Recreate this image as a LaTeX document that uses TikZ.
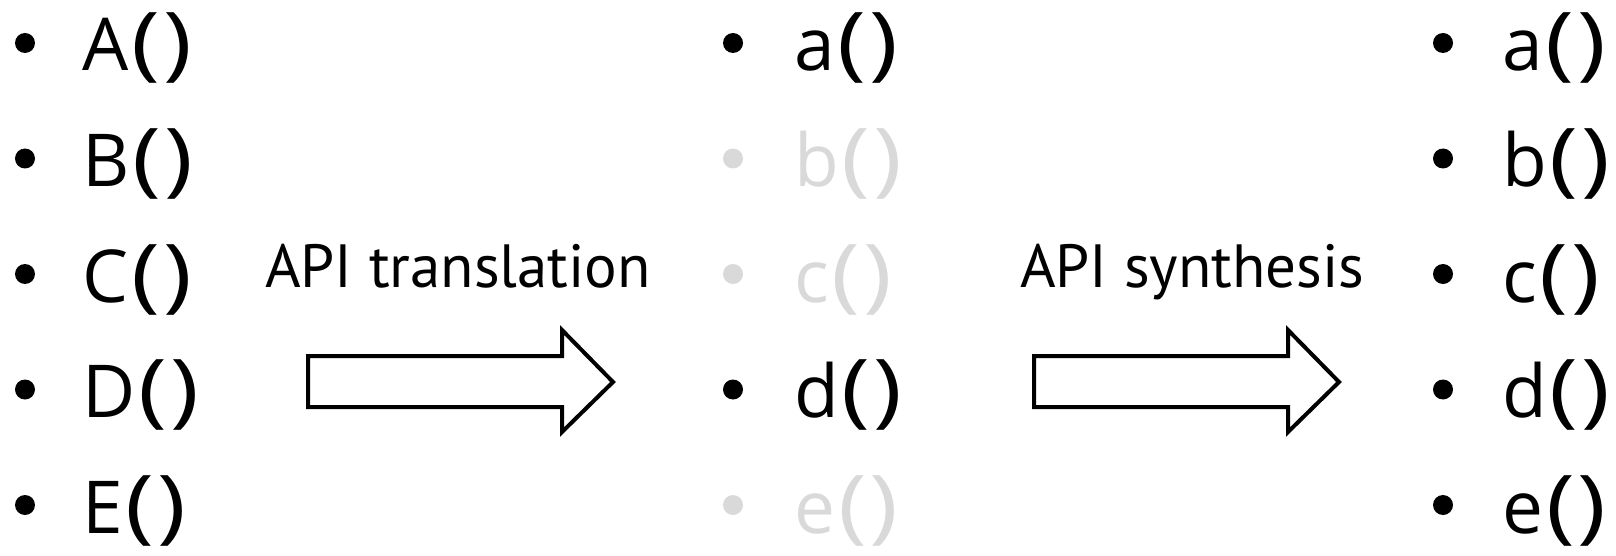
\documentclass[tikz,border=0pt]{standalone}
\usepackage{fontspec}
\setmainfont{Open Sans}
\newfontfamily\labelfont{PT Sans}
\newcommand{\pp}{{\fontsize{81}{88}\selectfont\kern3pt\scalebox{1.2}[1]{(}\kern3pt\scalebox{1.2}[1]{)}}}
\begin{document}
\begin{tikzpicture}[x=1pt,y=-1pt,
  item/.style={anchor=base west,inner sep=0pt,font=\fontsize{73}{80}\selectfont},
  faded/.style={text=black!15},
  bul/.style={circle,fill=black,inner sep=0pt,minimum size=20pt},
  fbul/.style={circle,fill=black!15,inner sep=0pt,minimum size=20pt},
  lbl/.style={anchor=base west,inner sep=0pt,font=\labelfont\fontsize{61}{66}\selectfont},
  bigarrow/.style={draw=black,line width=4pt,line join=miter,fill=white}]
\useasboundingbox (0,0) rectangle (1616,556);
% column 1
\foreach \t/\n [count=\i from 0] in {A/A,B/B,C/C,D/D,E/E}{
  \node[bul] (b1\n) at (25,71+115.5*\i-28) {};
  \node[item] (t1\n) at (82,71+115.5*\i) {\t\pp};
}
% column 2
\node[bul]  (b2a) at (733,71-28) {};
\node[item] (t2a) at (794,71) {a\pp};
\node[fbul] (b2b) at (733,186.5-28) {};
\node[item,faded] (t2b) at (794,186.5) {b\pp};
\node[fbul] (b2c) at (733,302-28) {};
\node[item,faded] (t2c) at (794,302) {c\pp};
\node[bul]  (b2d) at (733,417.5-28) {};
\node[item] (t2d) at (794,417.5) {d\pp};
\node[fbul] (b2e) at (733,533-28) {};
\node[item,faded] (t2e) at (794,533) {e\pp};
% column 3
\foreach \t [count=\i from 0] in {a,b,c,d,e}{
  \node[bul] (b3\t) at (1443,71+115.5*\i-28) {};
  \node[item] (t3\t) at (1502,71+115.5*\i) {\t\pp};
}
% labels
\node[lbl] (l1) at (265,287) {API translation};
\node[lbl] (l2) at (1020,287) {API synthesis};
% arrows
\draw[bigarrow] (308,356) -- (562,356) -- (562,330) -- (613,382) -- (562,432) -- (562,407) -- (308,407) -- cycle;
\draw[bigarrow] (1034,356) -- (1288,356) -- (1288,330) -- (1339,382) -- (1288,432) -- (1288,407) -- (1034,407) -- cycle;
\end{tikzpicture}
\end{document}
